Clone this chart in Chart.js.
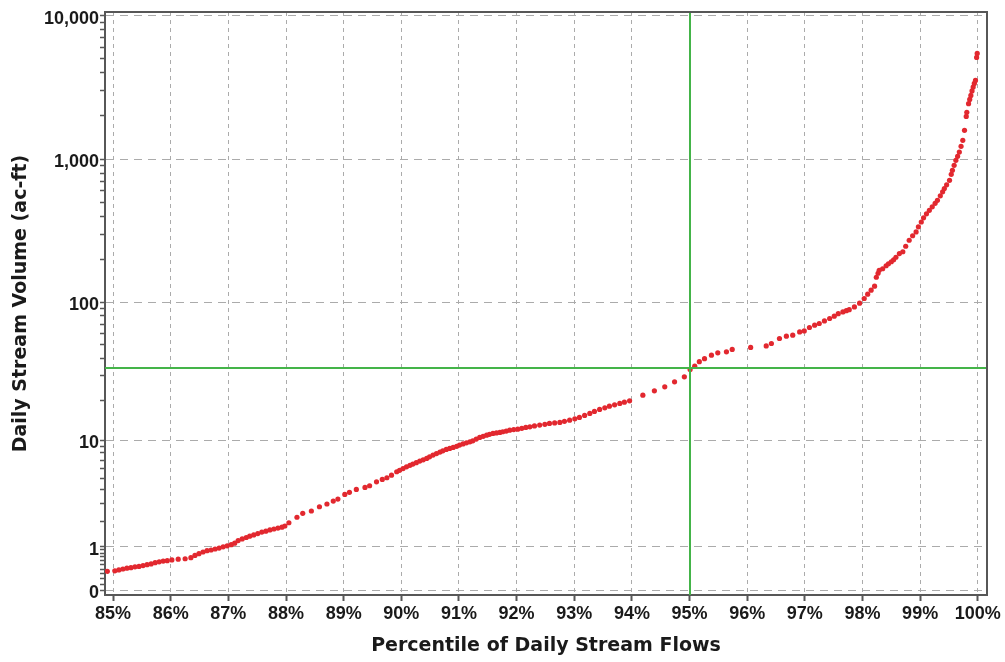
<!DOCTYPE html>
<html>
<head>
<meta charset="utf-8">
<title>Daily Stream Volume by Flow Percentile</title>
<script src="https://cdn.jsdelivr.net/npm/chart.js@4/dist/chart.umd.min.js"></script>
<style>
  html, body { margin: 0; padding: 0; background: #ffffff; }
  #wrap { width: 1005px; height: 662px; position: relative; }
</style>
</head>
<body>
<div id="wrap"><canvas id="chart" width="1005" height="662"></canvas></div>
<script>
// Percentile of daily stream flows (%) for each day plotted
const percentiles = [
  84.90, 85.03, 85.10, 85.17, 85.24, 85.31, 85.38, 85.45, 85.52, 85.59,
  85.66, 85.73, 85.80, 85.87, 85.94, 86.02, 86.13, 86.25, 86.35, 86.42,
  86.49, 86.56, 86.63, 86.70, 86.77, 86.84, 86.91, 86.98, 87.05, 87.11,
  87.17, 87.24, 87.31, 87.37, 87.44, 87.51, 87.58, 87.65, 87.72, 87.79,
  87.86, 87.93, 87.98, 88.05, 88.19, 88.29,
  88.44, 88.58, 88.71, 88.82, 88.90, 89.02, 89.10, 89.22, 89.37, 89.45,
  89.57, 89.67, 89.75, 89.83, 89.92, 89.97, 90.03, 90.09, 90.15, 90.20,
  90.26, 90.32, 90.38, 90.44, 90.49, 90.55, 90.61, 90.67, 90.72, 90.78,
  90.84, 90.90, 90.96, 91.01, 91.07, 91.13, 91.19, 91.24, 91.30, 91.36,
  91.42, 91.48, 91.53, 91.59, 91.65, 91.71, 91.76, 91.82, 91.88, 91.95,
  92.02, 92.09, 92.16, 92.23, 92.31, 92.40, 92.49, 92.57, 92.66, 92.75,
  92.83, 92.92, 93.01, 93.09, 93.18, 93.27, 93.35, 93.44, 93.53, 93.61,
  93.70, 93.79, 93.87, 93.96,
  94.19, 94.39, 94.57, 94.74, 94.91, 95.01, 95.09, 95.17, 95.26, 95.38,
  95.49, 95.64, 95.74, 96.06, 96.33, 96.42, 96.56, 96.68, 96.79, 96.91,
  96.99, 97.08, 97.17, 97.25, 97.34, 97.43, 97.51, 97.58, 97.66, 97.72,
  97.77, 97.86, 97.95, 98.03, 98.09, 98.15, 98.21, 98.24, 98.27, 98.29,
  98.35, 98.41, 98.45, 98.50, 98.54, 98.58, 98.64, 98.70, 98.75, 98.81,
  98.87, 98.93, 98.97, 99.02, 99.06, 99.11, 99.16, 99.21, 99.26, 99.30,
  99.35, 99.39, 99.42, 99.46, 99.51, 99.54, 99.56, 99.59, 99.62, 99.65,
  99.68, 99.71, 99.74, 99.77, 99.80, 99.81, 99.84, 99.86, 99.88, 99.90,
  99.92, 99.94, 99.96, 99.98, 99.99
];

// Daily stream volume (ac-ft) for the same days
const volumes = [
  0.35, 0.36, 0.38, 0.40, 0.42, 0.43, 0.45, 0.46, 0.48, 0.50,
  0.52, 0.55, 0.57, 0.59, 0.60, 0.62, 0.64, 0.65, 0.68, 0.74,
  0.79, 0.84, 0.88, 0.90, 0.93, 0.96, 1.00, 1.03, 1.07, 1.12,
  1.21, 1.27, 1.32, 1.37, 1.42, 1.47, 1.53, 1.57, 1.62, 1.66,
  1.70, 1.74, 1.79, 1.94, 2.21, 2.42,
  2.55, 2.80, 2.97, 3.16, 3.30, 3.63, 3.79, 4.02, 4.18, 4.32,
  4.67, 4.89, 5.05, 5.31, 5.66, 5.81, 6.01, 6.21, 6.38, 6.53,
  6.71, 6.90, 7.07, 7.25, 7.46, 7.70, 7.91, 8.13, 8.32, 8.53,
  8.68, 8.84, 9.02, 9.21, 9.41, 9.59, 9.77, 9.94, 10.24, 10.55,
  10.76, 10.98, 11.14, 11.31, 11.41, 11.51, 11.65, 11.78, 11.98, 12.09,
  12.19, 12.36, 12.56, 12.69, 12.89, 13.07, 13.25, 13.45, 13.57, 13.69,
  13.95, 14.24, 14.56, 14.91, 15.43, 15.97, 16.52, 17.09, 17.56, 18.07,
  18.47, 18.92, 19.34, 19.76,
  21.75, 23.38, 24.99, 27.15, 29.51, 33.35, 35.21, 37.92, 39.84, 42.20,
  43.83, 44.55, 46.33, 47.87, 49.12, 51.10, 55.43, 57.55, 58.50, 61.73,
  62.75, 66.31, 68.85, 70.78, 73.84, 76.77, 79.70, 82.99, 85.45, 87.13,
  88.54, 92.65, 98.37, 106.2, 113.8, 121.4, 129.5, 149.7, 159.7, 167.6,
  171.7, 180.2, 186.1, 192.2, 198.5, 206.7, 219.3, 225.8, 246.7, 271.7,
  292.1, 310.5, 337.5, 364.6, 390.0, 415.9, 440.0, 465.5, 492.4, 516.6,
  555.3, 592.2, 623.4, 662.5, 712.4, 784.2, 836.1, 906.2, 981.5, 1047,
  1121, 1229, 1353, 1588, 1987, 2119, 2437, 2610, 2783, 2991,
  3179, 3374, 3539, 5117, 5456
];

// Axis ticks
const percentileTicks = [85, 86, 87, 88, 89, 90, 91, 92, 93, 94, 95, 96, 97, 98, 99, 100];
const volumeTicks = [0, 1, 10, 100, 1000, 10000];
const volumeMinorTicks = [
  0.1, 0.2, 0.3, 0.4, 0.5, 0.6, 0.7, 0.8, 0.9,
  2, 3, 4, 5, 6, 7, 8, 9,
  20, 30, 40, 50, 60, 70, 80, 90,
  200, 300, 400, 500, 600, 700, 800, 900,
  2000, 3000, 4000, 5000, 6000, 7000, 8000, 9000
];

// 95th percentile flow and its matching daily volume (ac-ft)
const guidePercentile = 95;
const guideVolume = 34;

// Logarithmic axis of (value + 1) so that zero can be shown
class Log1pScale extends Chart.LinearScale {
  buildTicks() {
    return volumeTicks.concat(volumeMinorTicks)
      .sort((a, b) => a - b)
      .map(v => ({ value: v, major: volumeTicks.includes(v) }));
  }
  configure() {
    super.configure();
    this._tStart = Math.log10(this.min + 1);
    this._tRange = Math.log10(this.max + 1) - this._tStart;
  }
  getPixelForValue(value) {
    return this.getPixelForDecimal((Math.log10(value + 1) - this._tStart) / this._tRange);
  }
  getValueForPixel(pixel) {
    return Math.pow(10, this._tStart + this.getDecimalForPixel(pixel) * this._tRange) - 1;
  }
}
Log1pScale.id = 'log1p';
Log1pScale.defaults = Chart.LinearScale.defaults;
Chart.register(Log1pScale);

const axisColor = '#575757';
const gridColor = '#ababab';
const textColor = '#1a1a1a';
const tickFont = { family: '"Liberation Sans", Arial, sans-serif', size: 18, weight: 'bold' };
const titleFont = { family: '"DejaVu Sans", sans-serif', size: 19, weight: 'bold' };

// Closes the plot box and draws the 95th-percentile guide lines
const frameAndGuides = {
  id: 'frameAndGuides',
  afterDatasetsDraw(chart) {
    const { ctx, chartArea: a, scales } = chart;
    ctx.save();
    ctx.strokeStyle = '#44b449';
    ctx.lineWidth = 2;
    const gx = Math.round(scales.x.getPixelForValue(guidePercentile));
    const gy = Math.round(scales.y.getPixelForValue(guideVolume));
    ctx.beginPath();
    ctx.moveTo(gx, a.top);
    ctx.lineTo(gx, a.bottom);
    ctx.moveTo(a.left, gy);
    ctx.lineTo(a.right, gy);
    ctx.stroke();
    ctx.strokeStyle = axisColor;
    ctx.lineWidth = 2;
    ctx.beginPath();
    ctx.moveTo(a.left, a.top);
    ctx.lineTo(a.right, a.top);
    ctx.lineTo(a.right, a.bottom);
    ctx.stroke();
    ctx.restore();
  }
};

const points = percentiles.map((p, i) => ({ x: p, y: volumes[i] }));

new Chart(document.getElementById('chart'), {
  type: 'scatter',
  data: {
    datasets: [{
      data: points,
      pointRadius: 2.6,
      pointHoverRadius: 2.6,
      pointBackgroundColor: '#e2282f',
      pointBorderWidth: 0,
      showLine: false
    }]
  },
  options: {
    responsive: false,
    animation: false,
    devicePixelRatio: 1,
    layout: { padding: { top: 12, right: 18, left: 0, bottom: 0 } },
    plugins: {
      legend: { display: false },
      tooltip: { enabled: false }
    },
    scales: {
      x: {
        type: 'linear',
        min: 84.86,
        max: 100.16,
        afterBuildTicks(scale) {
          scale.ticks = percentileTicks.map(v => ({ value: v }));
        },
        afterFit(scale) { scale.height = 67; },
        ticks: {
          autoSkip: false,
          maxRotation: 0,
          padding: 2,
          color: textColor,
          font: tickFont,
          callback: v => v + '%'
        },
        grid: {
          color: gridColor,
          lineWidth: 1,
          tickColor: axisColor,
          tickLength: 6,
          tickWidth: 2
        },
        border: { color: axisColor, width: 2, dash: [4, 4] },
        title: {
          display: true,
          text: 'Percentile of Daily Stream Flows',
          color: textColor,
          font: titleFont,
          padding: { top: 8, bottom: 5 }
        }
      },
      y: {
        type: 'log1p',
        min: -0.077,
        max: 10600,
        afterFit(scale) { scale.width = 105; },
        ticks: {
          autoSkip: false,
          padding: 1,
          labelOffset: 3,
          color: textColor,
          font: tickFont,
          callback: function (v) {
            return volumeTicks.includes(v) ? v.toLocaleString('en-US') : '';
          }
        },
        grid: {
          color: ctx => (ctx.tick && ctx.tick.major) ? gridColor : 'rgba(0,0,0,0)',
          lineWidth: 1,
          tickColor: axisColor,
          tickLength: 5,
          tickWidth: 1.5
        },
        border: { color: axisColor, width: 2, dash: [8, 6] },
        title: {
          display: true,
          text: 'Daily Stream Volume (ac-ft)',
          color: textColor,
          font: titleFont,
          padding: { top: 10, bottom: 0 }
        }
      }
    }
  },
  plugins: [frameAndGuides]
});
</script>
</body>
</html>
